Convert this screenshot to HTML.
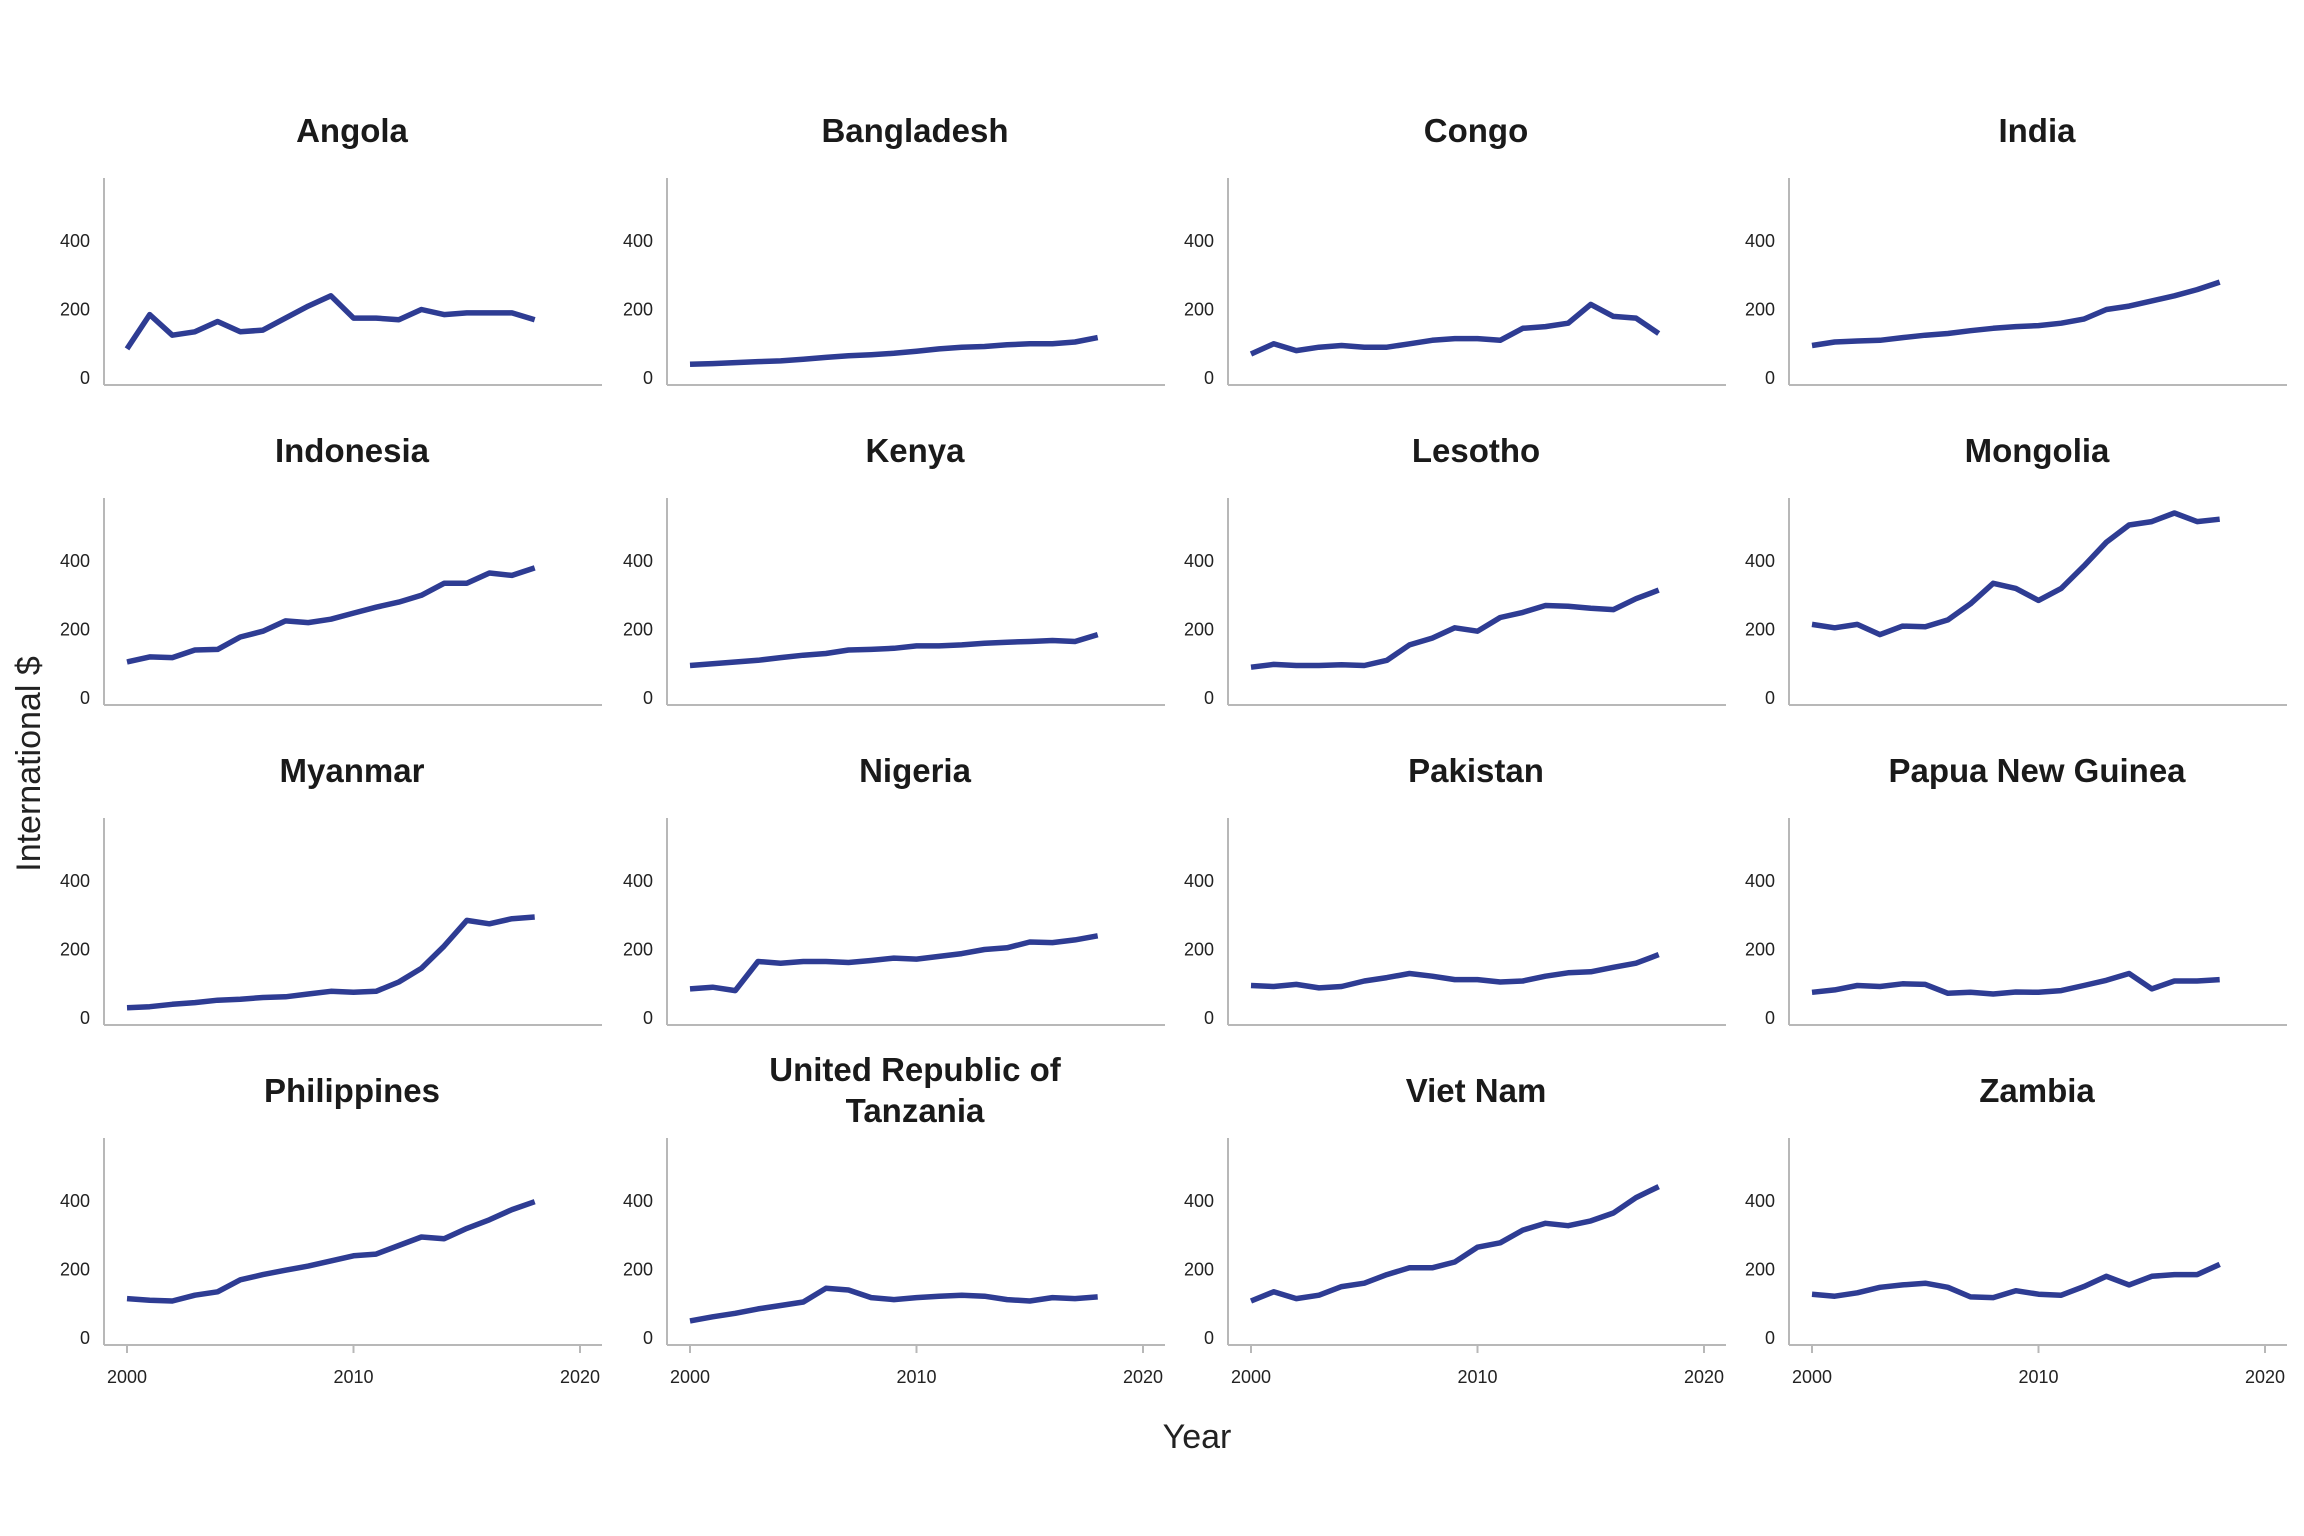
<!DOCTYPE html>
<html><head><meta charset="utf-8"><style>
html,body{margin:0;padding:0;background:#fff;}
svg{display:block;font-family:"Liberation Sans",sans-serif;}
</style></head><body>
<svg id="s" width="2304" height="1536" xmlns="http://www.w3.org/2000/svg"></svg>
<script>
var data=[
["Angola",[85,185,125,135,165,135,140,175,210,240,175,175,170,200,185,190,190,190,170]],
["Bangladesh",[40,42,45,48,50,55,60,65,68,72,78,85,90,92,97,100,100,105,118]],
["Congo",[70,100,80,90,95,90,90,100,110,115,115,110,145,150,160,215,180,175,130]],
["India",[95,105,108,110,118,125,130,138,145,150,153,160,172,200,210,225,240,258,280]],
["Indonesia",[105,120,118,140,142,178,195,225,220,230,248,265,280,300,335,335,365,358,380]],
["Kenya",[95,100,105,110,118,125,130,140,142,145,152,152,155,160,163,165,168,165,185]],
["Lesotho",[90,98,95,95,97,95,110,155,175,205,195,235,250,270,268,262,258,290,315]],
["Mongolia",[215,205,215,185,210,208,228,275,335,320,285,320,385,455,505,515,540,515,522]],
["Myanmar",[30,33,40,45,52,55,60,62,70,78,75,78,105,145,210,285,275,290,295]],
["Nigeria",[85,90,80,165,160,165,165,162,168,175,172,180,188,200,205,222,220,228,240]],
["Pakistan",[95,92,98,88,92,108,118,130,122,112,112,105,108,122,132,135,148,160,185]],
["Papua New Guinea",[75,82,95,92,100,98,72,75,70,76,75,80,95,110,130,85,108,108,112]],
["Philippines",[115,110,108,125,135,170,185,198,210,225,240,245,270,295,290,320,345,375,398]],
["United Republic of|Tanzania",[50,62,72,85,95,105,145,140,118,112,118,122,125,122,112,108,118,115,120]],
["Viet Nam",[108,135,115,125,150,160,185,205,205,222,265,278,315,335,328,342,365,410,442]],
["Zambia",[128,122,132,148,155,160,148,120,118,138,128,125,150,180,155,180,185,185,215]]
];
var h='';
var colX=[104,667,1228,1789],rowY=[178,498,818,1138];
data.forEach(function(d,i){
 var c=i%4,r=Math.floor(i/4),L=colX[c],T=rowY[r],R=L+498,B=T+207;
 var y0=T+200,k=0.3425,x0=L+23,px=22.65;
 var tc=L+248;
 var t=d[0].split('|');
 if(t.length==1)h+='<text x="'+tc+'" y="'+(T-36)+'" font-size="33" font-weight="bold" text-anchor="middle" fill="#1a1a1a">'+t[0]+'</text>';
 else{h+='<text x="'+tc+'" y="'+(T-57)+'" font-size="33" font-weight="bold" text-anchor="middle" fill="#1a1a1a">'+t[0]+'</text>';
 h+='<text x="'+tc+'" y="'+(T-16)+'" font-size="33" font-weight="bold" text-anchor="middle" fill="#1a1a1a">'+t[1]+'</text>';}
 h+='<line x1="'+L+'" y1="'+T+'" x2="'+L+'" y2="'+B+'" stroke="#b8b8b8" stroke-width="2"/>';
 h+='<line x1="'+L+'" y1="'+B+'" x2="'+R+'" y2="'+B+'" stroke="#b8b8b8" stroke-width="2"/>';
 [0,200,400].forEach(function(v){h+='<text x="'+(L-14)+'" y="'+(y0-v*k+6)+'" font-size="18" text-anchor="end" fill="#222">'+v+'</text>';});
 if(r==3){[2000,2010,2020].forEach(function(v){var xx=x0+(v-2000)*px;
  h+='<line x1="'+xx+'" y1="'+B+'" x2="'+xx+'" y2="'+(B+8)+'" stroke="#b8b8b8" stroke-width="2"/>';
  h+='<text x="'+xx+'" y="'+(B+38)+'" font-size="18" text-anchor="middle" fill="#222">'+v+'</text>';});}
 var p=d[1].map(function(v,j){return (x0+j*px).toFixed(1)+','+(y0-v*k).toFixed(1);}).join(' ');
 h+='<polyline points="'+p+'" fill="none" stroke="#2e3c93" stroke-width="5.5" stroke-linejoin="round"/>';
});
h+='<text x="1197" y="1448" font-size="34" text-anchor="middle" fill="#222">Year</text>';
h+='<text transform="translate(40,764) rotate(-90)" font-size="34" text-anchor="middle" fill="#222">International $</text>';
document.getElementById('s').innerHTML=h;
</script>
</body></html>
